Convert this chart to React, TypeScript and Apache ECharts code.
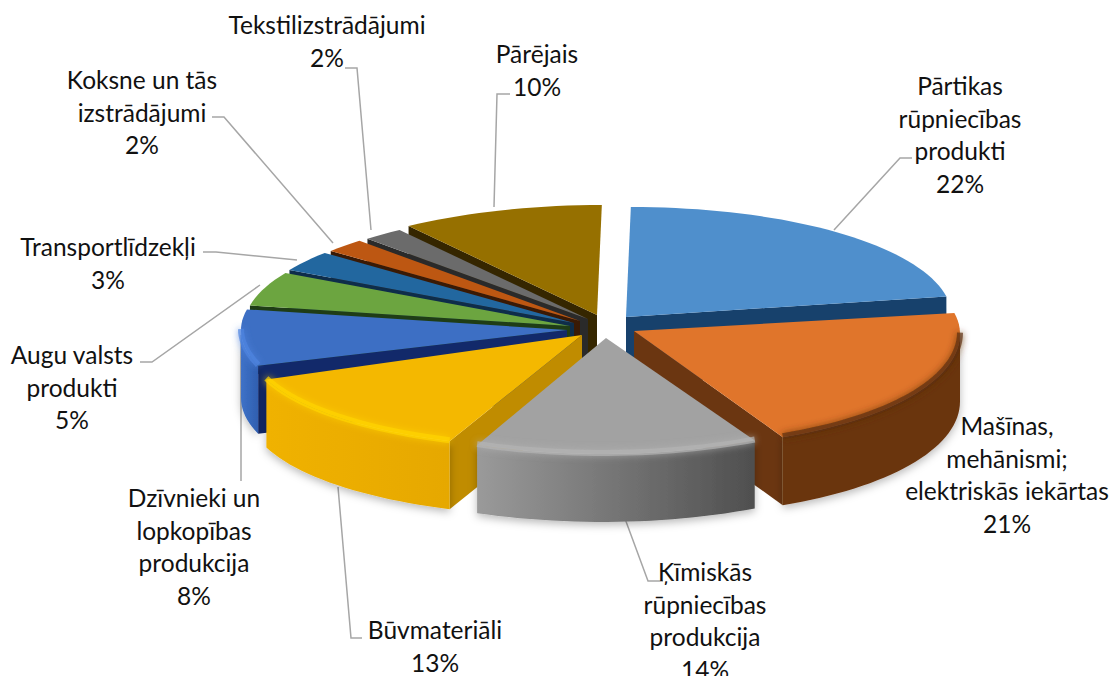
import React, { useEffect, useRef } from "react";
import * as echarts from "echarts";

const names = [
  "Pārtikas\nrūpniecības\nprodukti",
  "Mašīnas,\nmehānismi;\nelektriskās iekārtas",
  "Ķīmiskās\nrūpniecības\nprodukcija",
  "Būvmateriāli",
  "Dzīvnieki un\nlopkopības\nprodukcija",
  "Augu valsts\nprodukti",
  "Transportlīdzekļi",
  "Koksne un tās\nizstrādājumi",
  "Tekstilizstrādājumi",
  "Pārējais",
];
const values = [22, 21, 14, 13, 8, 5, 3, 2, 2, 10];

// painter's order: back slices first
const drawOrder = [9, 8, 7, 6, 5, 4, 0, 1, 3, 2];

const topColors = ["#4f8fcc", "#e0752b", "#a2a2a2", "#f4b800", "#3d6fc4", "#6ca540", "#22679f", "#bd5712", "#6b6b6b", "#967000"];
const cutColors = ["#17416c", "#6b3611", "#555555", "#c08c00", "#12296a", "#1f3d16", "#0e2d4a", "#3a1a05", "#2a2a2a", "#352600"];
const wallStops = [
  ["#17416c", "#17416c"],
  ["#6b3611", "#6b3611"],
  ["#9a9a9a", "#4f4f4f"],
  ["#f0b200", "#e6a800"],
  ["#3f72c8", "#2f5fb0"],
  ["#6ca540", "#6ca540"],
  ["#22679f", "#22679f"],
  ["#bd5712", "#bd5712"],
  ["#6b6b6b", "#6b6b6b"],
  ["#967000", "#967000"],
];
const rimColors = ["", "#5e2f0e", "#b4b4b4", "#ffd400", "#4f84e0", "", "", "", "", ""];

const pivotX = [626, 634, 606, 582, 567, 570, 574, 580, 588, 597];
const pivotY = [317, 331, 338, 335, 330, 326, 323, 321, 319, 315];
const radiusX = [326, 326, 326, 333, 326, 326, 326, 326, 326, 326];
const radiusBack = [110, 110, 110, 110, 110, 110, 110, 110, 110, 110];
const radiusFront = [116, 116, 116, 113, 116, 116, 116, 116, 116, 116];
const skewY = [0, 0.008, -0.017, -0.03, 0, 0, 0, 0, 0, 0];
const depth = 68;
const curveFront = 0.0009;
const curveBack = 0.0004;

const labelX = [960, 1007, 705, 435, 194, 72, 108, 142, 327, 537];
const labelTop = [69, 409, 555, 613, 481, 338, 230, 63, 8, 37];
const leaders = [
  [[912, 158], [900, 158], [834, 230]],
  [],
  [[663, 581], [648, 581], [617, 497]],
  [[362, 638], [351, 638], [338, 487]],
  [[241, 481], [241, 335]],
  [[140, 362], [152, 362], [260, 285]],
  [[203, 252], [216, 252], [297, 260]],
  [[212, 117], [224, 117], [333, 243]],
  [[345, 68], [357, 68], [371, 230]],
  [[510, 94], [497, 94], [494, 207]],
];

const total = values.reduce((a, b) => a + b, 0);
const starts: number[] = [];
values.reduce((acc, v, i) => {
  starts[i] = acc;
  return acc + v;
}, 0);

function rimPoint(i: number, deg: number): number[] {
  const t = (deg * Math.PI) / 180;
  const c = Math.cos(t);
  const ry = c > 0 ? radiusBack[i] : radiusFront[i];
  const dy = -c * ry;
  const curve = (dy > 0 ? curveFront : curveBack) * dy * dy;
  const dx = radiusX[i] * Math.sin(t) + curve;
  return [pivotX[i] + dx, pivotY[i] + dy + skewY[i] * dx];
}

function arc(i: number, a: number, b: number): number[][] {
  const pts: number[][] = [];
  const n = Math.max(2, Math.ceil((b - a) / 2));
  for (let k = 0; k <= n; k++) pts.push(rimPoint(i, a + ((b - a) * k) / n));
  return pts;
}

const down = (p: number[]) => [p[0], p[1] + depth];

function renderSlice(_: any, api: any) {
  const i = api.value(0) as number;
  const v = api.value(1) as number;
  const a = (starts[i] / total) * 360;
  const b = a + (v / total) * 360;
  const pivot = [pivotX[i], pivotY[i]];
  const children: any[] = [];
  const face = (deg: number) => {
    const p = rimPoint(i, deg);
    children.push({
      type: "polygon",
      shape: { points: [pivot, p, down(p), down(pivot)] },
      style: { fill: cutColors[i] },
    });
  };
  if (Math.sin((a * Math.PI) / 180) < 0) face(a);
  if (Math.sin((b * Math.PI) / 180) > 0) face(b);
  const wa = Math.max(a, 90);
  const wb = Math.min(b, 270);
  if (wb > wa) {
    const top = arc(i, wa, wb);
    children.push({
      type: "polygon",
      shape: { points: [...top, ...top.map(down).reverse()] },
      style: {
        fill: new echarts.graphic.LinearGradient(0, 0, 1, 0, [
          { offset: 0, color: wallStops[i][0] },
          { offset: 1, color: wallStops[i][1] },
        ]),
        shadowBlur: 9,
        shadowOffsetY: 3,
        shadowColor: "rgba(0,0,0,0.28)",
      },
    });
  }
  children.push({
    type: "polygon",
    shape: { points: [pivot, ...arc(i, a, b)] },
    style: { fill: topColors[i] },
  });
  if (wb > wa && rimColors[i]) {
    children.push({
      type: "polyline",
      shape: { points: arc(i, wa, wb).map((p) => [p[0], p[1] - 1]) },
      style: {
        fill: "none",
        stroke: rimColors[i],
        lineWidth: 6,
        opacity: 0.7,
        shadowBlur: 7,
        shadowColor: rimColors[i],
      },
    });
  }
  return { type: "group", children };
}

export default function App() {
  const ref = useRef<HTMLDivElement>(null);
  useEffect(() => {
    document.body.style.margin = "0";
    const chart = echarts.init(ref.current!, undefined, { renderer: "svg" });
    const graphics: any[] = [];
    leaders.forEach((pts) => {
      if (pts.length)
        graphics.push({
          type: "polyline",
          z: 1,
          shape: { points: pts },
          style: { fill: "none", stroke: "#a6a6a6", lineWidth: 1.5 },
        });
    });
    names.forEach((n, i) => {
      graphics.push({
        type: "text",
        z: 5,
        x: labelX[i],
        y: labelTop[i],
        style: {
          text: `${n}\n${values[i]}%`,
          font: '24.5px Lato, "Open Sans", sans-serif',
          lineHeight: 32.7,
          fill: "#111111",
          textAlign: "center",
          textVerticalAlign: "top",
        },
      });
    });
    chart.setOption({
      animation: false,
      backgroundColor: "#ffffff",
      graphic: graphics,
      series: [
        {
          type: "custom",
          coordinateSystem: "none",
          silent: true,
          z: 3,
          renderItem: renderSlice,
          data: drawOrder.map((i) => [i, values[i]]),
        },
      ],
    });
    return () => chart.dispose();
  }, []);
  return <div ref={ref} style={{ position: "absolute", left: 0, top: 0, width: 1112, height: 676, overflow: "hidden" }} />;
}
